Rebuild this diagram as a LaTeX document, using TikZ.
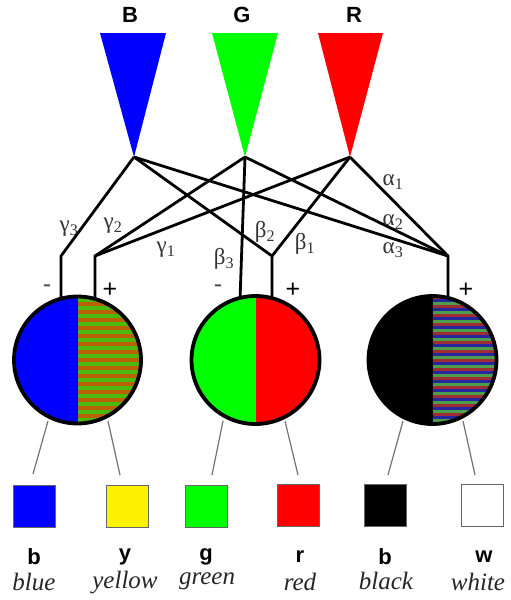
\documentclass[tikz,border=0pt]{standalone}
\usepackage{fontspec}
\setmainfont{Liberation Serif}
\setsansfont{Liberation Sans}
\begin{document}
\begin{tikzpicture}[x=1pt,y=-1pt,
  wire/.style={line width=2.8pt,line join=miter},
  leader/.style={line width=1.2pt,draw=black!55},
  swatch/.style={draw=black!60,line width=1pt,minimum width=42pt,minimum height=42pt,inner sep=0pt},
  rim/.style={line width=3.8pt},
  greek/.style={font=\fontsize{23}{23}\selectfont,text=black!80,inner sep=0pt},
  sign/.style={font=\sffamily\fontsize{25}{25}\selectfont,inner sep=0pt},
  code/.style={font=\sffamily\bfseries\fontsize{22}{22}\selectfont,inner sep=0pt},
  word/.style={font=\itshape\fontsize{25}{25}\selectfont,text=black!85,inner sep=0pt},
  hdr/.style={font=\sffamily\bfseries\fontsize{22}{22}\selectfont,inner sep=0pt}]
\useasboundingbox (0,0) rectangle (511,600);
\definecolor{stg}{rgb}{0.30,0.72,0.05}
\definecolor{stb}{rgb}{0.72,0.38,0.02}
\definecolor{sb}{rgb}{0.15,0.15,0.62}
\definecolor{sg}{rgb}{0.30,0.62,0.30}
\definecolor{sr}{rgb}{0.62,0.18,0.20}

% headers
\node[hdr] (hB) at (130,15) {B};
\node[hdr] (hG) at (242,15) {G};
\node[hdr] (hR) at (354,15) {R};

% cones
\fill[blue]  (100,33) -- (166,33) -- (134,157) -- cycle;
\fill[green] (212,33) -- (278,33) -- (245,157) -- cycle;
\fill[red]   (318,33) -- (383,33) -- (350,157) -- cycle;
\coordinate (aB) at (134,157);
\coordinate (aG) at (245,157);
\coordinate (aR) at (350,157);

% junctions
\coordinate (j1) at (61,256);
\coordinate (j2) at (95,256);
\coordinate (j3) at (240,300);
\coordinate (j4) at (272,256);
\coordinate (j5) at (448,256);
\coordinate (e1) at (61,302);
\coordinate (e2) at (95,302);
\coordinate (e4) at (272,302);
\coordinate (e5) at (448,302);

\draw[wire] (aB) -- (j1) -- (e1);
\draw[wire] (aG) -- (j2) -- (e2);
\draw[wire] (aR) -- (j2);
\draw[wire] (aG) -- (j3);
\draw[wire] (aB) -- (j4) -- (e4);
\draw[wire] (aR) -- (j4);
\draw[wire] (aR) -- (j5) -- (e5);
\draw[wire] (aG) -- (j5);
\draw[wire] (aB) -- (j5);

% weights
\node[greek] (g3) at (69,229) {γ\textsubscript{3}};
\node[greek] (g2) at (113,226) {γ\textsubscript{2}};
\node[greek] (g1) at (166,250) {γ\textsubscript{1}};
\node[greek] (b3) at (224,259) {β\textsubscript{3}};
\node[greek] (b2) at (265,232) {β\textsubscript{2}};
\node[greek] (b1) at (305,244) {β\textsubscript{1}};
\node[greek] (a1) at (393,182) {α\textsubscript{1}};
\node[greek] (a2) at (393,222) {α\textsubscript{2}};
\node[greek] (a3) at (393,250) {α\textsubscript{3}};

% signs
\node[sign,text=black!70] (m1) at (47,289) {-};
\node[sign] (p1) at (110,290) {+};
\node[sign,text=black!70] (m2) at (218,289) {-};
\node[sign] (p2) at (293,290) {+};
\node[sign] (p3) at (466,290) {+};

% circles
\coordinate (c1) at (77.5,360);
\coordinate (c2) at (255.5,360);
\coordinate (c3) at (432.5,360);
\begin{scope}
  \clip (c1) circle (63.5);
  \fill[blue] (10,290) rectangle (78,430);
  \foreach \y in {290,298,...,426} {
    \fill[stg] (78,\y) rectangle (145,\y+4);
    \fill[stb] (78,\y+4) rectangle (145,\y+8);
  }
\end{scope}
\begin{scope}
  \clip (c2) circle (64);
  \fill[green] (185,290) rectangle (255.5,430);
  \fill[red] (255.5,290) rectangle (325,430);
\end{scope}
\begin{scope}
  \clip (c3) circle (64);
  \fill[black] (365,290) rectangle (433,430);
  \foreach \y in {290,299,...,426} {
    \fill[sb] (433,\y) rectangle (500,\y+3);
    \fill[sg] (433,\y+3) rectangle (500,\y+6);
    \fill[sr] (433,\y+6) rectangle (500,\y+9);
  }
\end{scope}
\draw[rim] (c1) circle (63.5);
\draw[rim] (c2) circle (64);
\draw[rim] (c3) circle (64);

% swatches
\node[swatch,fill=blue] (sq1) at (34,506) {};
\node[swatch,fill=yellow] (sq2) at (127.5,506) {};
\node[swatch,fill=green] (sq3) at (206,506) {};
\node[swatch,fill=red] (sq4) at (298,505) {};
\node[swatch,fill=black] (sq5) at (385.5,505) {};
\node[swatch,fill=white] (sq6) at (482,505) {};

% leaders
\coordinate (l1) at (48,421);  \coordinate (k1) at (33,474);
\coordinate (l2) at (108,421); \coordinate (k2) at (120,475);
\coordinate (l3) at (223,421); \coordinate (k3) at (212,475);
\coordinate (l4) at (285,421); \coordinate (k4) at (298,475);
\coordinate (l5) at (403,421); \coordinate (k5) at (388,475);
\coordinate (l6) at (463,421); \coordinate (k6) at (475,475);
\foreach \i in {1,...,6} { \draw[leader] (l\i) -- (k\i); }

% labels
\node[code] (t1) at (34,557) {b};
\node[code] (t2) at (125,557) {y};
\node[code] (t3) at (206,557) {g};
\node[code] (t4) at (300,557) {r};
\node[code] (t5) at (385,557) {b};
\node[code] (t6) at (484,557) {w};
\node[word] (w1) at (34,582) {blue};
\node[word] (w2) at (125,583) {yellow};
\node[word] (w3) at (207,581) {green};
\node[word] (w4) at (300,582) {red};
\node[word] (w5) at (386,581) {black};
\node[word] (w6) at (478,582) {white};
\end{tikzpicture}
\end{document}
